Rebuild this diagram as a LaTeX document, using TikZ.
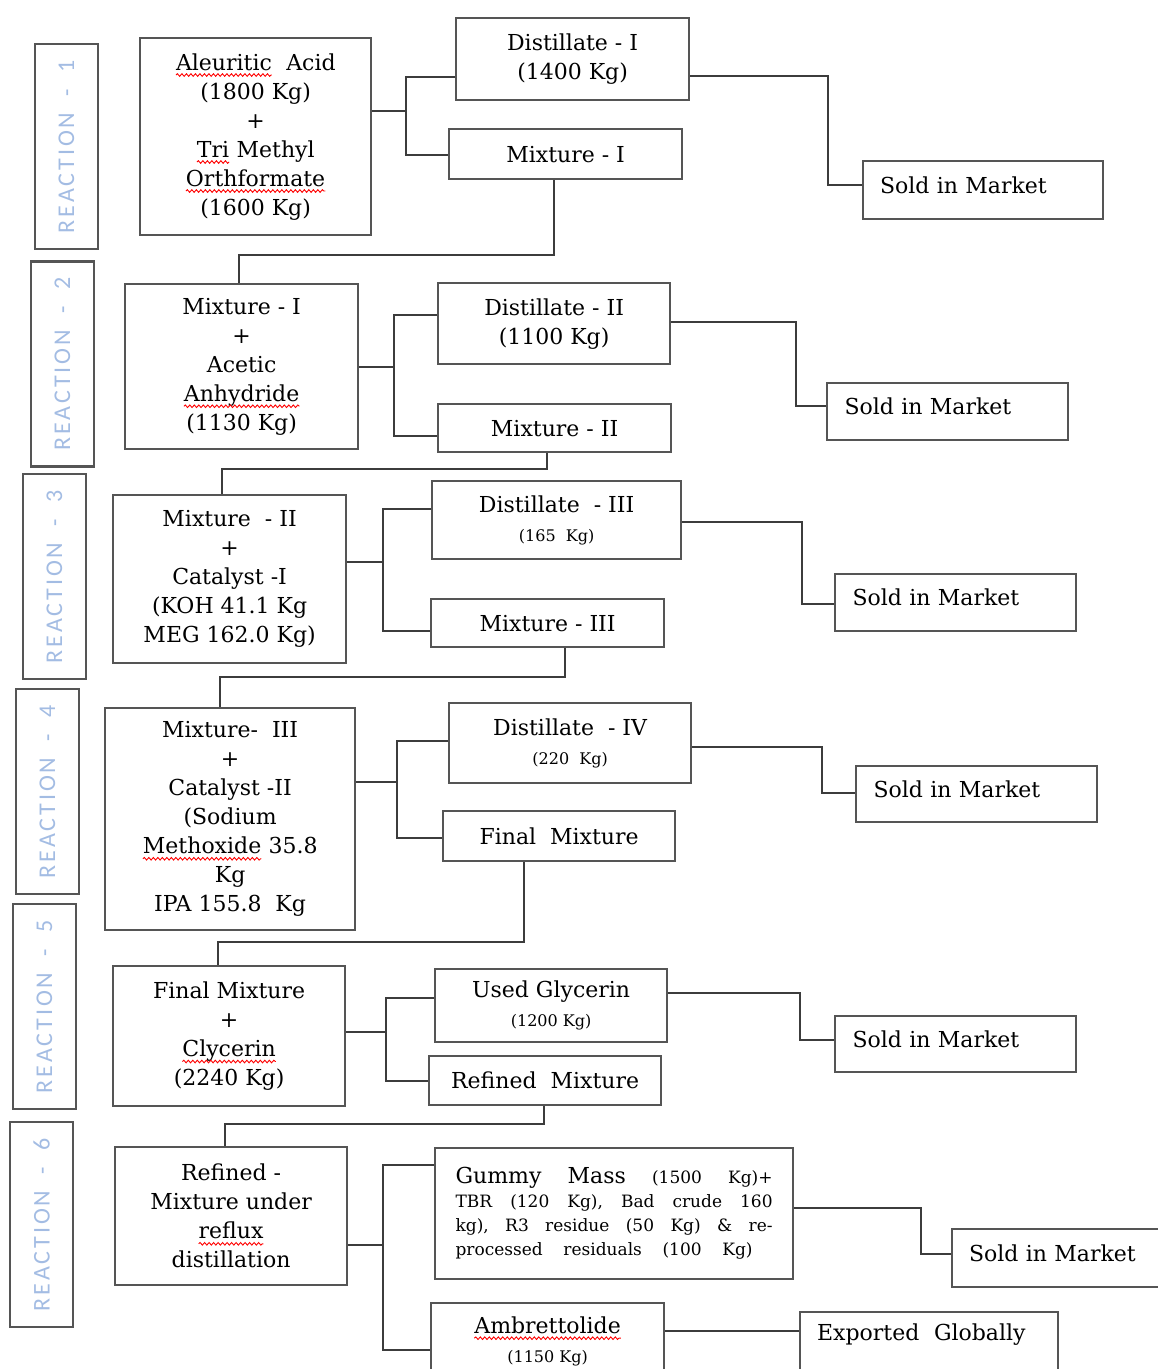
\documentclass[tikz,border=0pt]{standalone}
\usepackage{fontspec}
\setmainfont{DejaVu Serif}
\newfontfamily\reactfont[LetterSpace=12]{Carlito}
\usetikzlibrary{calc,decorations.pathmorphing}
\definecolor{boxgray}{HTML}{555555}
\definecolor{linegray}{HTML}{3C3C3C}
\definecolor{reactblue}{HTML}{A3BCE3}
\newcommand\mainsz{\fontsize{22}{29}\selectfont}
\newcommand\smallsz{\fontsize{16}{24}\selectfont}
\newcommand\spreadline[2]{\leavevmode\hbox to #1{#2}}
\newcommand\sq[1]{\tikz[baseline=(sqw.base)]{\node[draw=none, fill=none, inner sep=0pt, outer sep=0pt,
    minimum width=0pt, minimum height=0pt, anchor=base, rotate=0] (sqw) at (0,0) {#1};
  \draw[red, line width=0.9pt, decorate, decoration={snake,amplitude=1.3pt,segment length=4.5pt}]
    ([yshift=-5pt]sqw.base west) -- ([yshift=-5pt]sqw.base east);}}
\tikzset{
  box/.style={draw=boxgray, line width=2.2pt, align=center, inner sep=0pt, font=\mainsz, anchor=north west},
  rbox/.style={draw=boxgray, line width=2.2pt, inner sep=0pt, rotate=90, minimum width=205pt, minimum height=63pt,
    font={\reactfont\fontsize{24}{24}\selectfont}, text=reactblue},
  sold/.style={box, align=left, text width=206pt, inner xsep=17pt, minimum width=240pt, minimum height=58pt, text depth=10pt},
  conn/.style={draw=linegray, line width=2pt},
}
\begin{document}
\begin{tikzpicture}[x=1pt,y=-1pt]
\useasboundingbox (0,0) rectangle (1158,1369);
\clip (0,0) rectangle (1158,1369);

% reaction labels
\node[rbox] (r1) at (66.5,146.5) {REACTION\ \ -\ \ 1};
\node[rbox] (r2) at (62.5,364) {REACTION\ \ -\ \ 2};
\node[rbox] (r3) at (54.5,576.5) {REACTION\ \ -\ \ 3};
\node[rbox] (r4) at (47.5,791.5) {REACTION\ \ -\ \ 4};
\node[rbox] (r5) at (44.5,1006.5) {REACTION\ \ -\ \ 5};
\node[rbox] (r6) at (41.5,1224.5) {REACTION\ \ -\ \ 6};

% reaction 1
\node[box, minimum width=231pt, minimum height=197pt] (a1) at (139,37)
  {\sq{Aleuritic}\ \ Acid\\(1800 Kg)\\+\\\sq{Tri} Methyl\\\sq{Orthformate}\\(1600 Kg)};
\node[box, minimum width=233pt, minimum height=82pt] (d1) at (455,17) {Distillate - I\\(1400 Kg)};
\node[box, minimum width=233pt, minimum height=50pt] (m1) at (448,128) {Mixture - I};
\node[sold] (s1) at (862,160) {Sold in Market};

% reaction 2
\node[box, minimum width=233pt, minimum height=165pt] (a2) at (124,283)
  {Mixture - I\\+\\Acetic\\\sq{Anhydride}\\(1130 Kg)};
\node[box, minimum width=232pt, minimum height=81pt] (d2) at (437,282) {Distillate - II\\(1100 Kg)};
\node[box, minimum width=233pt, minimum height=48pt] (m2) at (437,403) {Mixture - II};
\node[sold, minimum width=241pt, minimum height=57pt] (s2) at (826,382) {Sold in Market};

% reaction 3
\node[box, minimum width=233pt, minimum height=168pt] (a3) at (112,494)
  {Mixture\ \ - II\\+\\Catalyst -I\\(KOH 41.1 Kg\\MEG 162.0 Kg)};
\node[box, minimum width=249pt, minimum height=78pt] (d3) at (431,480) {Distillate\ \ - III\\{\smallsz (165\ \ Kg)}};
\node[box, minimum width=233pt, minimum height=48pt] (m3) at (430,598) {Mixture - III};
\node[sold, minimum width=241pt, minimum height=57pt] (s3) at (834,573) {Sold in Market};

% reaction 4
\node[box, minimum width=250pt, minimum height=222pt] (a4) at (104,707)
  {Mixture-\ \ III\\+\\Catalyst -II\\(Sodium\\\sq{Methoxide} 35.8\\Kg\\IPA 155.8\ \ Kg};
\node[box, minimum width=242pt, minimum height=80pt] (d4) at (448,702) {Distillate\ \ - IV\\{\smallsz (220\ \ Kg)}};
\node[box, minimum width=232pt, minimum height=50pt] (fm) at (442,810) {Final\ \ Mixture};
\node[sold, minimum width=241pt, minimum height=56pt] (s4) at (855,765) {Sold in Market};

% reaction 5
\node[box, minimum width=232pt, minimum height=140pt] (a5) at (112,965)
  {Final Mixture\\+\\\sq{Clycerin}\\(2240 Kg)};
\node[box, minimum width=232pt, minimum height=73pt] (ug) at (434,968) {Used Glycerin\\{\smallsz (1200 Kg)}};
\node[box, minimum width=232pt, minimum height=49pt] (rm) at (428,1055) {Refined\ \ Mixture};
\node[sold, minimum width=241pt, minimum height=56pt] (s5) at (834,1015) {Sold in Market};

% reaction 6
\node[box, minimum width=232pt, minimum height=138pt] (a6) at (114,1146)
  {Refined -\\Mixture under\\\sq{reflux}\\distillation};
\node[box, align=left, text width=317pt, minimum width=358pt, minimum height=131pt, font=\fontsize{17}{24}\selectfont] (gm) at (434,1147)
  {\spreadline{317pt}{{\mainsz Gummy}\hfill{\mainsz Mass}\hfill(1500\hfill Kg)+}\\
   \spreadline{317pt}{TBR\hfill(120\hfill Kg),\hfill Bad\hfill crude\hfill 160}\\
   \spreadline{317pt}{kg),\hfill R3\hfill residue\hfill (50\hfill Kg)\hfill \&\hfill re-}\\
   \spreadline{297pt}{processed\hfill residuals\hfill (100\hfill Kg)}};
\node[box, minimum width=233pt, minimum height=76pt] (amb) at (430,1302) {\sq{Ambrettolide}\\{\smallsz (1150 Kg)}};
\node[sold] (s6) at (951,1228) {Sold in Market};
\node[sold, text width=224pt, minimum width=258pt, minimum height=70pt, text depth=30pt] (eg) at (799,1311) {Exported\ \ Globally};

% connectors reaction 1
\draw[conn] (a1.east |- 0,111) -- (406,111);
\draw[conn] (d1.west |- 0,77) -| (406,155) -- (m1.west |- 0,155);
\draw[conn] (d1.east |- 0,76) -| (828,185) -- (s1.west |- 0,185);
\draw[conn] (m1.south -| 554,0) |- (239,255) -- (a2.north -| 239,0);
% reaction 2
\draw[conn] (a2.east |- 0,367) -- (394,367);
\draw[conn] (d2.west |- 0,315) -| (394,436) -- (m2.west |- 0,436);
\draw[conn] (d2.east |- 0,322) -| (796,406) -- (s2.west |- 0,406);
\draw[conn] (m2.south -| 547,0) |- (222,469) -- (a3.north -| 222,0);
% reaction 3
\draw[conn] (a3.east |- 0,562) -- (383,562);
\draw[conn] (d3.west |- 0,509) -| (383,631) -- (m3.west |- 0,631);
\draw[conn] (d3.east |- 0,522) -| (802,604) -- (s3.west |- 0,604);
\draw[conn] (m3.south -| 565,0) |- (220,677) -- (a4.north -| 220,0);
% reaction 4
\draw[conn] (a4.east |- 0,782) -- (397,782);
\draw[conn] (d4.west |- 0,741) -| (397,838) -- (fm.west |- 0,838);
\draw[conn] (d4.east |- 0,747) -| (822,793) -- (s4.west |- 0,793);
\draw[conn] (fm.south -| 524,0) |- (218,942) -- (a5.north -| 218,0);
% reaction 5
\draw[conn] (a5.east |- 0,1032) -- (386,1032);
\draw[conn] (ug.west |- 0,998) -| (386,1081) -- (rm.west |- 0,1081);
\draw[conn] (ug.east |- 0,993) -| (800,1040) -- (s5.west |- 0,1040);
\draw[conn] (rm.south -| 544,0) |- (225,1124) -- (a6.north -| 225,0);
% reaction 6
\draw[conn] (a6.east |- 0,1245) -- (383,1245);
\draw[conn] (gm.west |- 0,1165) -| (383,1350) -- (amb.west |- 0,1350);
\draw[conn] (gm.east |- 0,1208) -| (921,1254) -- (s6.west |- 0,1254);
\draw[conn] (amb.east |- 0,1331) -- (eg.west |- 0,1331);
\end{tikzpicture}
\end{document}
